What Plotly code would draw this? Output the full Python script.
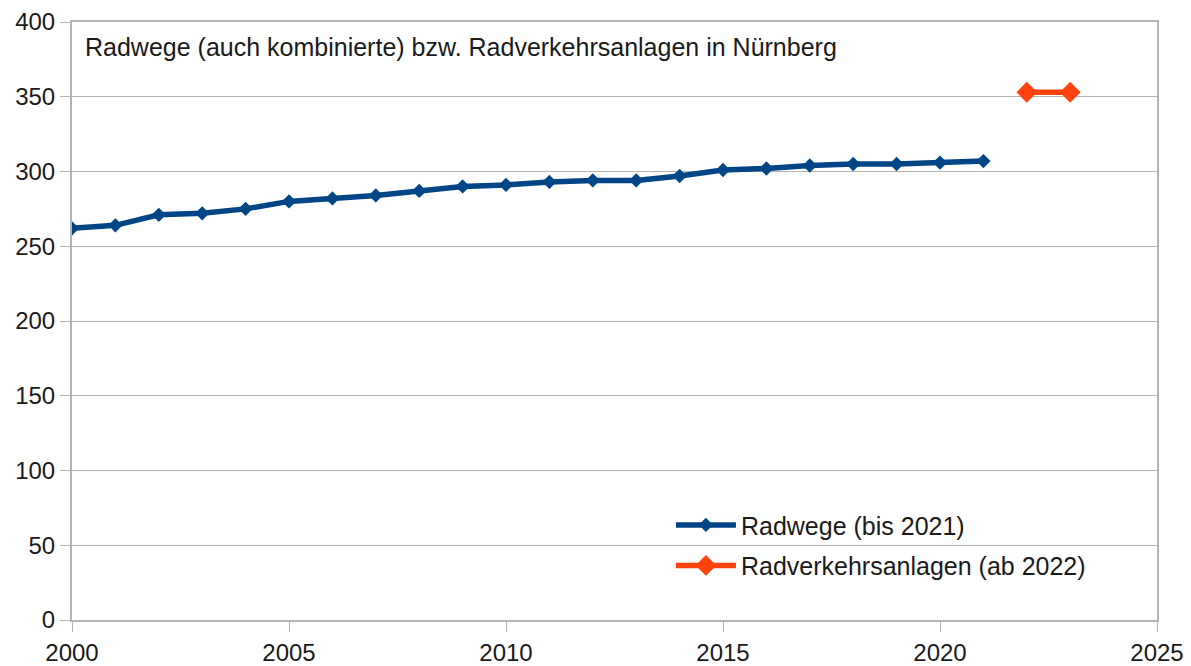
import plotly.graph_objects as go

years_a = list(range(2000, 2022))
radwege = [262, 264, 271, 272, 275, 280, 282, 284, 287, 290, 291, 293, 294, 294,
           297, 301, 302, 304, 305, 305, 306, 307]
years_b = [2022, 2023]
radverkehrsanlagen = [353, 353]

title_text = "Radwege (auch kombinierte) bzw. Radverkehrsanlagen in Nürnberg"
name_a = "Radwege (bis 2021)"
name_b = "Radverkehrsanlagen (ab 2022)"

fig = go.Figure()
fig.add_trace(go.Scatter(x=years_a, y=radwege, name=name_a, mode="lines+markers",
                         legendgroup="a",
                         line=dict(color="#004586", width=5.5),
                         marker=dict(symbol="diamond", size=11, color="#004586")))
fig.add_trace(go.Scatter(x=years_b, y=radverkehrsanlagen, name=name_b, mode="lines+markers",
                         legendgroup="b",
                         line=dict(color="#ff420e", width=5.5),
                         marker=dict(symbol="diamond", size=16, color="#ff420e")))

font_family = "Liberation Sans, Arial, sans-serif"
fig.update_layout(
    width=1191, height=666,
    margin=dict(l=72, r=34, t=22, b=46, autoexpand=False),
    paper_bgcolor="white", plot_bgcolor="white",
    font=dict(family=font_family, size=25, color="#1a1a1a"),
    showlegend=True,
    legend=dict(x=0.552, y=0.197, xanchor="left", yanchor="top",
                bgcolor="rgba(0,0,0,0)", font=dict(size=25), tracegroupgap=5,
                traceorder="grouped", itemwidth=60),
    annotations=[dict(text=title_text, xref="paper", yref="paper", x=0.010, y=0.985,
                      xanchor="left", yanchor="top", showarrow=False,
                      font=dict(size=25, family=font_family, color="#1a1a1a"))],
)
fig.update_xaxes(range=[2000, 2025], tickvals=[2000, 2005, 2010, 2015, 2020, 2025],
                 showgrid=False, showline=True, linecolor="#b3b3b3", linewidth=2,
                 mirror=True, ticks="outside", ticklen=10, tickcolor="#b3b3b3",
                 tickfont=dict(size=24), zeroline=False, automargin=False)
fig.update_yaxes(range=[0, 400], tickvals=list(range(0, 401, 50)),
                 showgrid=True, gridcolor="#b3b3b3", gridwidth=1,
                 showline=True, linecolor="#b3b3b3", linewidth=2, mirror=True,
                 ticks="outside", ticklen=10, tickcolor="#b3b3b3",
                 tickfont=dict(size=24), zeroline=False, automargin=False)

fig.write_html("out.html", config={"displayModeBar": False},
               post_script="document.body.style.margin='0';document.body.style.overflow='hidden';")
